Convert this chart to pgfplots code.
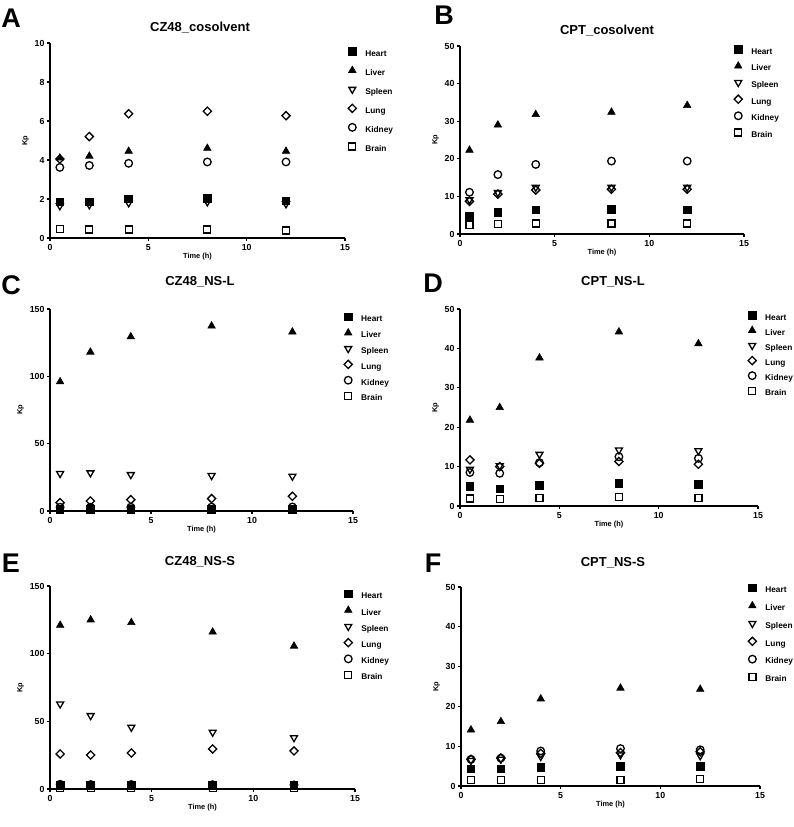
\documentclass[border=0pt]{standalone}
\usepackage{pgfplots}
\pgfplotsset{compat=1.18}
\usepackage{pgfplotstable}
\usepackage{fontspec}
\setmainfont{Liberation Sans}

% t heart liver spleen lung kidney brain
\pgfplotstableread{
t heart liver spleen lung kidney brain
0.5 1.85 4.10 1.65 4.05 3.62 0.46
2   1.85 4.20 1.70 5.20 3.72 0.43
4   2.00 4.45 1.80 6.37 3.83 0.44
8   2.03 4.60 1.85 6.50 3.90 0.43
12  1.90 4.45 1.75 6.27 3.90 0.39
}\dataA
\pgfplotstableread{
t heart liver spleen lung kidney brain
0.5 4.7 22.3 9.1 8.7 11.1 2.3
2   5.8 29.0 11.0 10.6 15.8 2.65
4   6.4 31.8 12.4 11.7 18.5 2.8
8   6.6 32.4 12.4 11.9 19.4 2.8
12  6.4 34.2 12.4 11.9 19.4 2.8
}\dataB
\pgfplotstableread{
t heart liver spleen lung kidney brain
0.5 1.5 96.0 27.8 6.2 2.8 0.5
2   1.5 118.0 28.3 7.4 2.8 0.5
4   1.5 129.4 27.0 8.4 2.8 0.5
8   1.6 137.4 26.3 9.2 2.9 0.5
12  1.6 133.0 25.8 10.9 3.0 0.5
}\dataC
\pgfplotstableread{
t heart liver spleen lung kidney brain
0.5 4.9 21.8 9.3 11.7 8.5 1.9
2   4.3 25.0 10.2 10.0 8.3 1.7
4   5.2 37.6 13.1 10.8 11.0 2.0
8   5.75 44.2 14.2 11.3 12.5 2.2
12  5.5 41.2 14.0 10.6 12.1 2.0
}\dataD
\pgfplotstableread{
t heart liver spleen lung kidney brain
0.5 3.0 121.0 62.8 25.9 3.5 0.8
2   2.8 125.0 54.2 25.1 3.3 0.8
4   2.8 123.0 45.6 26.6 3.3 0.8
8   2.6 116.0 41.9 29.6 3.2 0.8
12  2.5 105.6 37.9 28.1 3.0 0.8
}\dataE
\pgfplotstableread{
t heart liver spleen lung kidney brain
0.5 4.3 14.1 6.4 6.7 6.7 1.5
2   4.3 16.2 6.7 7.0 7.0 1.5
4   4.6 21.9 7.4 8.2 8.8 1.5
8   4.9 24.6 7.8 8.4 9.4 1.5
12  4.9 24.3 7.6 8.6 9.1 1.7
}\dataF

\pgfplotsset{
  kpaxis/.style={
    scale only axis, anchor=south west, axis lines*=left,
    xmin=0, xmax=15, ymin=0, xtick={0,5,10,15}, enlargelimits=false, clip=false,
    axis line style={line width=1.4pt, black},
    tick style={line width=1.1pt, black}, tick align=outside, major tick length=3pt,
    ticklabel style={font=\fontsize{8.8}{10}\selectfont\bfseries},
    yticklabel style={xshift=1pt},
    /pgf/number format/assume math mode=true,
    xlabel={Time (h)}, ylabel={Kp},
    label style={font=\fontsize{7.4}{8}\selectfont\bfseries},
    xlabel style={yshift=4pt}, ylabel style={yshift=-1pt},
    reverse legend,
    legend cell align=left,
    legend style={draw=none, fill=none, inner sep=0pt, outer sep=0pt,
      font=\fontsize{8.3}{9}\selectfont\bfseries,
      nodes={inner sep=0pt, text height=5.8pt, text depth=1.7pt}},
    legend image code/.code={%
      \path (0pt,-2pt) (0.7cm,2pt);
      \draw[mark repeat=2,mark phase=2,#1,overlay] plot coordinates {(0cm,2.8pt)(0.25cm,2.8pt)(0.7cm,2.8pt)};},
  },
  heart/.style={only marks, mark=square*, mark size=3.8pt, mark options={fill=black, draw=black, line width=0.8pt}},
  liver/.style={only marks, mark=triangle*, mark size=4.3pt, mark options={fill=black, draw=black, line width=0.6pt}},
  spleen/.style={only marks, mark=triangle, mark size=4.0pt, mark options={rotate=180, fill=white, draw=black, line width=1.3pt}},
  lung/.style={only marks, mark=square, mark size=2.9pt, mark options={rotate=45, fill=white, draw=black, line width=1.3pt}},
  kidney/.style={only marks, mark=o, mark size=3.8pt, mark options={fill=white, draw=black, line width=1.3pt}},
  brain/.style={only marks, mark=square, mark size=3.5pt, mark options={fill=white, draw=black, line width=1.3pt}},
}

\newcommand{\organplots}[1]{%
  \addplot[brain] table[x=t, y=brain] {#1}; \addlegendentry{Brain}
  \addplot[kidney] table[x=t, y=kidney] {#1}; \addlegendentry{Kidney}
  \addplot[lung] table[x=t, y=lung] {#1}; \addlegendentry{Lung}
  \addplot[spleen] table[x=t, y=spleen] {#1}; \addlegendentry{Spleen}
  \addplot[liver] table[x=t, y=liver] {#1}; \addlegendentry{Liver}
  \addplot[heart] table[x=t, y=heart] {#1}; \addlegendentry{Heart}
}

\begin{document}
\begin{tikzpicture}
\path[use as bounding box] (0pt,0pt) rectangle (793pt,827pt);

% A
\begin{axis}[kpaxis, at={(50pt,589pt)}, width=295pt, height=195pt, ymax=10, ytick={0,2,...,10},
  legend style={at={(1.0,0.962)}, anchor=north west, row sep=11.5pt}]
\organplots{\dataA}
\end{axis}
% B
\begin{axis}[kpaxis, at={(460pt,593pt)}, width=284pt, height=188pt, ymax=50, ytick={0,10,...,50},
  legend style={at={(0.954,0.987)}, anchor=north west, row sep=9.1pt}]
\organplots{\dataB}
\end{axis}
% C
\begin{axis}[kpaxis, at={(50pt,316pt)}, width=303pt, height=202pt, ymax=150, ytick={0,50,100,150},
  legend style={at={(0.960,0.965)}, anchor=north west, row sep=8.3pt}]
\organplots{\dataC}
\end{axis}
% D
\begin{axis}[kpaxis, at={(460pt,321pt)}, width=298pt, height=197pt, ymax=50, ytick={0,10,...,50},
  legend style={at={(0.956,0.973)}, anchor=north west, row sep=7.6pt}]
\organplots{\dataD}
\end{axis}
% E
\begin{axis}[kpaxis, at={(50pt,38pt)}, width=305pt, height=203pt, ymax=150, ytick={0,50,100,150},
  legend style={at={(0.954,0.965)}, anchor=north west, row sep=8.7pt}]
\organplots{\dataE}
\end{axis}
% F
\begin{axis}[kpaxis, at={(461pt,41pt)}, width=299pt, height=199pt, ymax=50, ytick={0,10,...,50},
  legend style={at={(0.950,1.0)}, anchor=north west, row sep=10.3pt}]
\organplots{\dataF}
\end{axis}

% panel letters and titles
\tikzset{letter/.style={font=\fontsize{27}{29}\selectfont\bfseries, inner sep=0pt},
         ptitle/.style={font=\fontsize{13}{15}\selectfont\bfseries, inner sep=0pt}}
\node[letter] at (11pt,809pt) {A};
\node[ptitle] at (200pt,799pt) {CZ48\_cosolvent};
\node[letter] at (444pt,812pt) {B};
\node[ptitle] at (607pt,796pt) {CPT\_cosolvent};
\node[letter] at (11pt,542pt) {C};
\node[ptitle] at (200pt,545pt) {CZ48\_NS-L};
\node[letter] at (433pt,544pt) {D};
\node[ptitle] at (613pt,545pt) {CPT\_NS-L};
\node[letter] at (11pt,264pt) {E};
\node[ptitle] at (200pt,265pt) {CZ48\_NS-S};
\node[letter] at (433pt,264pt) {F};
\node[ptitle] at (613pt,264pt) {CPT\_NS-S};
\end{tikzpicture}
\end{document}
